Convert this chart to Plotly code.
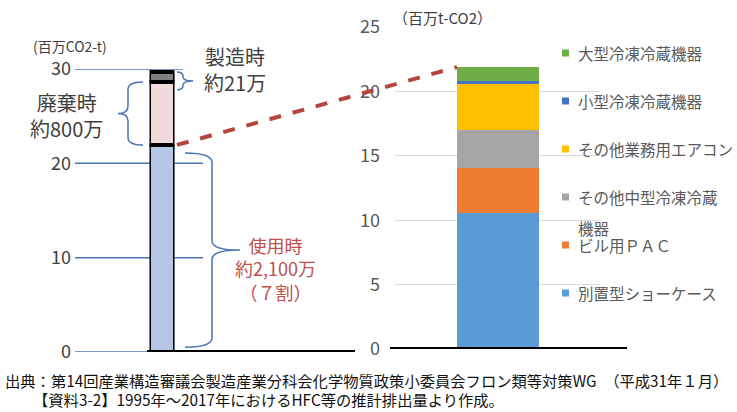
import plotly.graph_objects as go

# ---------------- data ----------------
left_category = ["合計"]
left_stages = ["使用時", "廃棄時", "製造時"]
left_values = [21.95, 6.68, 1.06]
left_ticks = [0, 10, 20, 30]

right_category = ["2017年"]
right_series = ["別置型ショーケース", "ビル用ＰＡＣ", "その他中型冷凍冷蔵機器",
                "その他業務用エアコン", "小型冷凍冷蔵機器", "大型冷凍冷蔵機器"]
right_values = [10.56, 3.49, 2.95, 3.57, 0.23, 1.09]
right_ticks = [0, 5, 10, 15, 20, 25]

left_unit = "(百万CO2-t)"
right_unit = "（百万t-CO2）"
label_make = "製造時<br>約21万"
label_waste = "廃棄時<br>約800万"
label_use = "使用時<br>約2,100万<br>（７割）"
source_lines = ["出典：第14回産業構造審議会製造産業分科会化学物質政策小委員会フロン類等対策WG　（平成31年１月）",
                "【資料3-2】1995年～2017年におけるHFC等の推計排出量より作成。"]

# ---------------- styles ----------------
left_colors = ["#b4c7e7", "#f2dcdb", "#7f7f7f"]
right_colors = ["#5b9bd5", "#ed7d31", "#a5a5a5", "#ffc000", "#4472c4", "#70ad47"]
FONT = "Noto Sans CJK JP"
W, H = 737, 412


def px(x):
    return x / W


def py(y):
    return 1 - y / H


L_DOM = [py(352), py(69)]
L_RANGE = [0, 30]
R_DOM = [py(349), py(27)]
R_RANGE = [0, 25]


def ly(v):
    return L_DOM[0] + (v - L_RANGE[0]) / (L_RANGE[1] - L_RANGE[0]) * (L_DOM[1] - L_DOM[0])


def ry(v):
    return R_DOM[0] + (v - R_RANGE[0]) / (R_RANGE[1] - R_RANGE[0]) * (R_DOM[1] - R_DOM[0])


fig = go.Figure()

for name, val, col in zip(left_stages, left_values, left_colors):
    fig.add_trace(go.Bar(x=left_category, y=[val], name=name, width=1,
                         marker=dict(color=col, line=dict(color="black", width=3.5)),
                         xaxis="x", yaxis="y", showlegend=False))

for name, val, col in zip(right_series, right_values, right_colors):
    fig.add_trace(go.Bar(x=right_category, y=[val], name=name, width=0.4,
                         marker=dict(color=col, line=dict(width=0)),
                         xaxis="x2", yaxis="y2", showlegend=False))

shapes = []
annotations = []

# left tick lines
for t in left_ticks:
    shapes.append(dict(type="line", xref="paper", yref="y", x0=px(75),
                       x1=px(183 if t == left_ticks[-1] else 203), y0=t, y1=t,
                       line=dict(color="#4a74b4", width=1.5), layer="below"))


def brace(xt, xb, xp, y0, y1, ym, r):
    s = 1 if y1 > y0 else -1
    return (f"M {xt},{y0} Q {xb},{y0} {xb},{y0 + s * r} "
            f"L {xb},{ym - s * r} Q {xb},{ym} {xp},{ym} "
            f"Q {xb},{ym} {xb},{ym + s * r} L {xb},{y1 - s * r} "
            f"Q {xb},{y1} {xt},{y1}")


use_top = left_values[0]
waste_top = left_values[0] + left_values[1]
total_left = sum(left_values)
total_right = sum(right_values)

bl = dict(color="#4a74b4", width=1.5)
# disposal brace (left side)
shapes.append(dict(type="path", xref="paper", yref="y", line=bl,
                   path=brace(px(143), px(128), px(118), use_top, waste_top,
                              (use_top + waste_top) / 2, 0.8)))
# manufacture brace
shapes.append(dict(type="path", xref="paper", yref="y", line=bl,
                   path=brace(px(177), px(183), px(193), total_left, total_left - 1.9,
                              total_left - 0.95, 0.45)))
# use brace
shapes.append(dict(type="path", xref="paper", yref="y", line=bl,
                   path=brace(px(185), px(212), px(240), 0.5, use_top - 0.85,
                              (use_top - 0.35) / 2, 1.0)))

# baselines
shapes.append(dict(type="line", xref="paper", yref="y", x0=px(147), x1=px(355), y0=0, y1=0,
                   line=dict(color="black", width=4)))
shapes.append(dict(type="line", xref="paper", yref="y2", x0=px(390), x1=px(627), y0=0, y1=0,
                   line=dict(color="black", width=4)))

# dashed connector
shapes.append(dict(type="line", xref="paper", yref="paper", x0=px(177), y0=ly(use_top),
                   x1=px(457), y1=ry(total_right),
                   line=dict(color="#b4463f", width=4, dash="dash")))

# manual legend
row_top, row_gap = 53, 48
n = len(right_series)
for i, (name, col) in enumerate(zip(right_series, right_colors)):
    yc = row_top + (n - 1 - i) * row_gap
    shapes.append(dict(type="rect", xref="paper", yref="paper",
                       x0=px(562), x1=px(569), y0=py(yc - 3.5), y1=py(yc + 3.5),
                       fillcolor=col, line=dict(width=0)))
    lines = [name] if len(name) <= 10 else [name[:9], name[9:]]
    for k, ln in enumerate(lines):
        annotations.append(dict(text=ln, xref="paper", yref="paper", x=px(576), y=py(yc + k * 31),
                                xanchor="left", yanchor="middle", showarrow=False,
                                font=dict(size=15.5, color="#595959", family=FONT)))

# texts
annotations += [
    dict(text=left_unit, x=px(70), y=py(46), font=dict(size=14, color="#404040", family=FONT)),
    dict(text=right_unit, x=px(391), y=py(18), xanchor="left", font=dict(size=15, color="#404040", family=FONT)),
    dict(text=label_make, x=px(202), y=py(69), xanchor="left", font=dict(size=20, color="#404040", family=FONT)),
    dict(text=label_waste, x=px(66), y=py(115), font=dict(size=20, color="#404040", family=FONT)),
    dict(text=label_use, x=px(275), y=py(268), font=dict(size=18, color="#c0504d", family=FONT)),
    dict(text=source_lines[0], x=px(3), y=py(380), xanchor="left", font=dict(size=15.3, color="#111111", family=FONT)),
    dict(text=source_lines[1], x=px(31), y=py(399), xanchor="left", font=dict(size=15.3, color="#111111", family=FONT)),
]
for a in annotations:
    a.setdefault("xref", "paper")
    a.setdefault("yref", "paper")
    a.setdefault("showarrow", False)
    a.setdefault("yanchor", "middle")
    a.setdefault("xanchor", "center")

fig.update_layout(
    template="none",
    width=W, height=H, margin=dict(l=0, r=0, t=0, b=0, pad=0, autoexpand=False),
    paper_bgcolor="white", plot_bgcolor="rgba(0,0,0,0)",
    barmode="stack", showlegend=False,
    font=dict(family=FONT),
    xaxis=dict(type="category", domain=[px(149.5), px(174.5)], range=[-0.5, 0.5], showticklabels=False,
               showgrid=False, zeroline=False, showline=False, automargin=False, ticks=""),
    yaxis=dict(domain=L_DOM, range=L_RANGE, anchor="free", position=px(75),
               tickvals=left_ticks, showgrid=False, zeroline=False, showline=False,
               ticks="", ticklabelstandoff=4, automargin=False,
               tickfont=dict(size=18, color="#404040", family=FONT)),
    xaxis2=dict(type="category", domain=[px(395), px(600)], range=[-0.5, 0.5], anchor="y2",
                showticklabels=False, showgrid=False, zeroline=False, showline=False,
                automargin=False, ticks=""),
    yaxis2=dict(domain=R_DOM, range=R_RANGE, anchor="x2", tickvals=right_ticks,
                showgrid=True, gridcolor="#d9d9d9", gridwidth=1, zeroline=False,
                showline=False, ticks="", ticklabelstandoff=14, automargin=False,
                tickfont=dict(size=18, color="#595959", family=FONT)),
    shapes=shapes, annotations=annotations,
)

fig.write_html("out.html")
